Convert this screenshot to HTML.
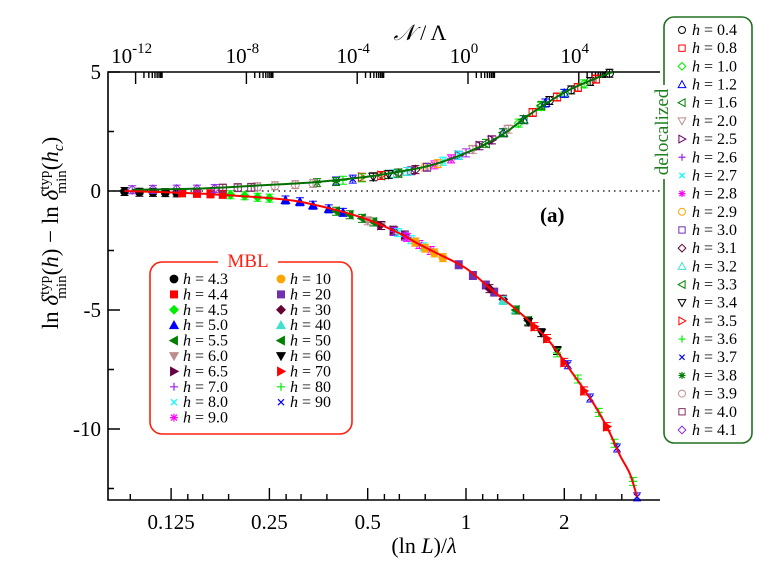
<!DOCTYPE html>
<html><head><meta charset="utf-8">
<style>
html,body{margin:0;padding:0;background:#fff;}
svg{display:block;font-family:"Liberation Serif","DejaVu Serif",serif;}
</style></head>
<body>
<svg id="chart" width="773" height="562" viewBox="0 0 773 562" xmlns="http://www.w3.org/2000/svg">
<g id="axes"></g>
<g id="curves"></g>
<g id="points"></g>
<text x="540" y="222" font-size="21" font-weight="bold">(<tspan font-weight="bold">a</tspan>)</text>
<text transform="translate(58,233) rotate(-90)" text-anchor="middle" font-size="23">ln <tspan font-style="italic">δ</tspan><tspan font-size="15" dy="-9">typ</tspan><tspan font-size="15" dx="-23" dy="17">min</tspan><tspan dy="-8">(</tspan><tspan font-style="italic">h</tspan>) − ln <tspan font-style="italic">δ</tspan><tspan font-size="15" dy="-9">typ</tspan><tspan font-size="15" dx="-23" dy="17">min</tspan><tspan dy="-8">(</tspan><tspan font-style="italic">h</tspan><tspan font-size="15" font-style="italic" dy="5">c</tspan><tspan dy="-5">)</tspan></text>
<text x="424" y="553" text-anchor="middle" font-size="22">(ln <tspan font-style="italic">L</tspan>)/<tspan font-style="italic">λ</tspan></text>
<text x="420" y="40" text-anchor="middle" font-size="22"><tspan font-style="italic">𝒩</tspan> / Λ</text>
<g id="legend-mbl"></g>
<g id="legend-deloc"></g>
</svg>
<script>
// ---- data ----
const upperFitX = [0.095,0.15,0.246,0.35,0.497,0.65,0.79,1.0,1.27,1.6,2.04,2.57,2.82];
const upperFitY = [0.05,0.1,0.25,0.38,0.6,0.85,1.1,1.6,2.3,3.3,4.2,4.8,5.0];
const lowerFitX = [0.09,0.13,0.173,0.25,0.31,0.4,0.5,0.63,0.71,0.81,1.0,1.21,1.43,1.77,2.13,2.45,2.72,2.96,3.18,3.34];
const lowerFitY = [0,-0.07,-0.15,-0.3,-0.45,-0.8,-1.2,-1.8,-2.2,-2.6,-3.25,-4.2,-5.0,-6.2,-7.7,-8.9,-10.0,-11.1,-11.9,-12.85];

const mblLabels = ["4.3","4.4","4.5","5.0","5.5","6.0","6.5","7.0","8.0","9.0","10","20","30","40","50","60","70","80","90"];
const mblX = [[0.09,0.10,0.11,0.12,0.13],[0.135,0.15,0.165,0.18],[0.19,0.21,0.23,0.25],[0.28,0.31,0.34,0.38,0.42],[0.40,0.44,0.48,0.52],[0.5,0.55,0.6],[0.55,0.6,0.65],[0.6,0.65,0.7],[0.62,0.68,0.74],[0.66,0.72,0.78],[0.7,0.75,0.8,0.85],[0.95,1.05,1.15,1.22],[1.18,1.3],[1.3,1.42],[1.42,1.55],[1.55,1.7,1.9],[1.62,1.77,2.0,2.3,2.7],[1.9,2.2,2.55,2.85,3.25],[2.05,2.4,2.9,3.34]];
const mblY = [[-0.02,-0.05,-0.06,-0.07,-0.08],[-0.08,-0.10,-0.12,-0.14],[-0.16,-0.2,-0.26,-0.3],[-0.38,-0.45,-0.6,-0.75,-0.9],[-0.85,-1.0,-1.15,-1.3],[-1.25,-1.45,-1.65],[-1.45,-1.65,-1.85],[-1.7,-1.9,-2.15],[-1.75,-2.05,-2.35],[-1.95,-2.25,-2.5],[-2.15,-2.4,-2.6,-2.8],[-3.1,-3.55,-3.95,-4.25],[-4.1,-4.55],[-4.6,-5.0],[-5.0,-5.45],[-5.5,-5.95,-6.7],[-5.7,-6.2,-7.2,-8.4,-9.9],[-6.8,-7.9,-9.3,-10.6,-12.2],[-7.3,-8.7,-10.8,-12.85]];

const delLabels = ["0.4","0.8","1.0","1.2","1.6","2.0","2.5","2.6","2.7","2.8","2.9","3.0","3.1","3.2","3.3","3.4","3.5","3.6","3.7","3.8","3.9","4.0","4.1"];
const delX = [[1.8,2.1,2.4,2.75],[1.6,1.9,2.2,2.5],[1.45,1.7,2.0,2.3],[1.3,1.5,1.75,2.0],[1.15,1.3,1.5,1.7],[1.05,1.2,1.35],[0.95,1.1,1.2],[0.9,1.0],[0.85,0.95],[0.8,0.9],[0.75,0.82],[0.68,0.76],[0.62,0.7],[0.6,0.66],[0.55,0.62],[0.52,0.58],[0.48,0.55],[0.42,0.48],[0.4,0.45],[0.35,0.4],[0.23,0.26,0.3,0.34],[0.18,0.2,0.22],[0.095,0.11,0.13,0.15,0.17]];
const delY = [[3.8,4.25,4.6,4.95],[3.3,3.95,4.35,4.7],[2.85,3.55,4.1,4.5],[2.45,3.0,3.7,4.1],[2.0,2.45,3.0,3.6],[1.75,2.15,2.6],[1.5,1.9,2.15],[1.35,1.6],[1.25,1.5],[1.1,1.35],[1.0,1.15],[0.85,1.0],[0.75,0.9],[0.72,0.82],[0.65,0.75],[0.6,0.7],[0.58,0.65],[0.45,0.55],[0.42,0.5],[0.35,0.4],[0.18,0.22,0.27,0.32],[0.12,0.14,0.15],[0.05,0.07,0.08,0.08,0.1]];

const bottomTickLabels = ["0.125","0.25","0.5","1","2"];
const bottomTickValues = [0.125,0.25,0.5,1,2];
const leftTickValues = [5,0,-5,-10];
const topTickExps = [-12,-8,-4,0,4];

// ---- styles (not data) ----
const mblStyle = [["circle","#000"],["square","#ff0000"],["diamond","#00ee00"],["tup","#0000ff"],["tleft","#008000"],["tdown","#bc8f8f"],["tright","#660044"],["plus","#a020f0"],["x","#00ffff"],["star","#ff00ff"],["circle","#ffa500"],["square","#7030b0"],["diamond","#660033"],["tup","#40e0d0"],["tleft","#008000"],["tdown","#000"],["tright","#ff0000"],["plus","#00ee00"],["x","#0000ff"]];
const delStyle = [["circle","#000"],["square","#ff0000"],["diamond","#00ee00"],["tup","#0000ff"],["tleft","#008000"],["tdown","#bc8f8f"],["tright","#660066"],["plus","#a020f0"],["x","#00ffff"],["star","#ff00ff"],["circle","#ffa500"],["square","#7030b0"],["diamond","#660033"],["tup","#40e0d0"],["tleft","#008000"],["tdown","#000"],["tright","#ff0000"],["plus","#00ee00"],["x","#0000ff"],["star","#008000"],["circle","#bc8f8f"],["square","#803060"],["diamond","#8a2be2"]];

const NS="http://www.w3.org/2000/svg";
const L=108,R=660,T=72,B=500;
function X(v){return 466+98.3*Math.log2(v);}
function Y(v){return 191-23.8*v;}
function TX(e){return 468+27.7*e;}
function mk(tag,attrs,parent){const e=document.createElementNS(NS,tag);for(const k in attrs)e.setAttribute(k,attrs[k]);parent.appendChild(e);return e;}

function marker(parent,shape,color,cx,cy,s,filled){
  const f=filled?color:"none";const sw=filled?0.8:1;
  let e;
  if(shape==="circle") e=mk("circle",{cx:cx,cy:cy,r:s*0.5,fill:f,stroke:color,"stroke-width":sw},parent);
  else if(shape==="square") e=mk("rect",{x:cx-s*0.45,y:cy-s*0.45,width:s*0.9,height:s*0.9,fill:f,stroke:color,"stroke-width":sw},parent);
  else if(shape==="diamond"){const d=s*0.55;e=mk("polygon",{points:`${cx},${cy-d} ${cx+d},${cy} ${cx},${cy+d} ${cx-d},${cy}`,fill:f,stroke:color,"stroke-width":sw},parent);}
  else if(shape==="tup"){const d=s*0.55;e=mk("polygon",{points:`${cx},${cy-d} ${cx+d},${cy+d*0.8} ${cx-d},${cy+d*0.8}`,fill:f,stroke:color,"stroke-width":sw},parent);}
  else if(shape==="tdown"){const d=s*0.55;e=mk("polygon",{points:`${cx},${cy+d} ${cx+d},${cy-d*0.8} ${cx-d},${cy-d*0.8}`,fill:f,stroke:color,"stroke-width":sw},parent);}
  else if(shape==="tleft"){const d=s*0.55;e=mk("polygon",{points:`${cx-d},${cy} ${cx+d*0.8},${cy-d} ${cx+d*0.8},${cy+d}`,fill:f,stroke:color,"stroke-width":sw},parent);}
  else if(shape==="tright"){const d=s*0.55;e=mk("polygon",{points:`${cx+d},${cy} ${cx-d*0.8},${cy-d} ${cx-d*0.8},${cy+d}`,fill:f,stroke:color,"stroke-width":sw},parent);}
  else {const d=s*0.5;let p="";
    if(shape==="plus"||shape==="star") p+=`M${cx-d},${cy}H${cx+d}M${cx},${cy-d}V${cy+d}`;
    if(shape==="x"||shape==="star"){const q=d*0.75;p+=`M${cx-q},${cy-q}L${cx+q},${cy+q}M${cx-q},${cy+q}L${cx+q},${cy-q}`;}
    e=mk("path",{d:p,fill:"none",stroke:color,"stroke-width":1.2},parent);}
  return e;
}

// ---- axes ----
const ax=document.getElementById('axes');
const frame=mk("path",{d:`M${R},${T}H${L}V${B}H${R}`,fill:"none",stroke:"#000","stroke-width":1.6},ax);


const zl=mk("line",{x1:L,y1:Y(0),x2:R,y2:Y(0),stroke:"#000","stroke-width":1.2,"stroke-dasharray":"1.5,4"},ax);


let bt="";
for(let k=-4;k<=1;k++){const base=Math.pow(2,k);[1,1.125,1.25,1.5].forEach((m,i)=>{const v=base*m;const x=X(v);if(x<L||x>R)return;const len=(i===0&&k>=-3)?12:6;bt+=`M${x},${B}V${B-len}`;});}
mk("path",{d:bt,stroke:"#000","stroke-width":1.4},ax);
bottomTickValues.forEach((v,i)=>{const t=mk("text",{x:X(v),y:529,"text-anchor":"middle","font-size":21},ax);t.textContent=bottomTickLabels[i];

});
let lt="";
for(let v=5;v>=-12.5;v-=2.5){const y=Y(v);const len=(v%5===0)?12:6;lt+=`M${L},${y}H${L+len}`;}
mk("path",{d:lt,stroke:"#000","stroke-width":1.4},ax);
leftTickValues.forEach(v=>{const t=mk("text",{x:101,y:Y(v)+7,"text-anchor":"end","font-size":21},ax);t.textContent=String(v);

});
let tt="";
topTickExps.forEach(e=>{const x=TX(e);tt+=`M${x},${T}V${T+12}`;for(let m=2;m<=9;m++){const xm=x+27.7*Math.log10(m);tt+=`M${xm},${T}V${T+6}`;}});
mk("path",{d:tt,stroke:"#000","stroke-width":1.4},ax);
topTickExps.forEach(e=>{const t=mk("text",{x:TX(e)-4,y:63,"text-anchor":"middle","font-size":21},ax);
t.innerHTML=`10<tspan font-size="15" dy="-10">${e}</tspan>`;

});

// ---- curves ----
function smoothPath(xs,ys){const P=xs.map((x,i)=>[X(x),Y(ys[i])]);let d=`M${P[0][0]},${P[0][1]}`;
for(let i=0;i<P.length-1;i++){const p0=P[Math.max(0,i-1)],p1=P[i],p2=P[i+1],p3=P[Math.min(P.length-1,i+2)];
d+=`C${p1[0]+(p2[0]-p0[0])/6},${p1[1]+(p2[1]-p0[1])/6} ${p2[0]-(p3[0]-p1[0])/6},${p2[1]-(p3[1]-p1[1])/6} ${p2[0]},${p2[1]}`;}return d;}
const cv=document.getElementById('curves');
const pts=document.getElementById('points');

mblX.forEach((xs,s)=>{xs.forEach((x,i)=>{const cx=X(x),cy=Y(mblY[s][i]);
 const eb=mk("path",{d:`M${cx},${cy-4}V${cy+4}M${cx-4},${cy-4}H${cx+4}M${cx-4},${cy+4}H${cx+4}`,stroke:mblStyle[s][1],"stroke-width":1},pts);
 
 
 const m=marker(pts,mblStyle[s][0],mblStyle[s][1],cx,cy,8,true);
 
 });});
delX.forEach((xs,s)=>{xs.forEach((x,i)=>{const cx=X(x),cy=Y(delY[s][i]);
 const eb=mk("path",{d:`M${cx},${cy-4}V${cy+4}M${cx-4},${cy-4}H${cx+4}M${cx-4},${cy+4}H${cx+4}`,stroke:delStyle[s][1],"stroke-width":1},pts);
 
 
 const m=marker(pts,delStyle[s][0],delStyle[s][1],cx,cy,8,false);
 
 });});

const uc=mk("path",{d:smoothPath(upperFitX,upperFitY),fill:"none",stroke:"#007000","stroke-width":2},cv);


const lc=mk("path",{d:smoothPath(lowerFitX,lowerFitY),fill:"none",stroke:"#ff0000","stroke-width":2},cv);


document.getElementById('chart').appendChild(cv);

// ---- legends ----
const lm=document.getElementById('legend-mbl');
const lmBox=mk("rect",{x:150,y:262,width:202,height:172,rx:12,fill:"#fff",stroke:"#ff2010","stroke-width":1.6},lm);


mk("rect",{x:218,y:252,width:60,height:16,fill:"#fff"},lm);
const lmT=mk("text",{x:248,y:267,"text-anchor":"middle","font-size":19,fill:"#ff2010"},lm);lmT.textContent="MBL";


mblLabels.forEach((lab,i)=>{const col=i<10?0:1,row=i<10?i:i-10;const mx=col?281:174,my=279+row*15.4;
 const g=mk("g",{},lm);
 
 
 marker(g,mblStyle[i][0],mblStyle[i][1],mx,my,8,true);
 const t=mk("text",{x:mx+9,y:my+5,"font-size":16},g);t.innerHTML=`<tspan font-style="italic">h</tspan> = ${lab}`;});

const ld=document.getElementById('legend-deloc');
const ldBox=mk("rect",{x:664,y:17,width:88,height:426,rx:10,fill:"#fff",stroke:"#207020","stroke-width":1.6},ld);


mk("rect",{x:655,y:85,width:16,height:94,fill:"#fff"},ld);
const ldT=mk("text",{x:0,y:0,"text-anchor":"middle","font-size":19,fill:"#208020",transform:"translate(668,132) rotate(-90)"},ld);ldT.textContent="delocalized";


delLabels.forEach((lab,i)=>{const mx=682,my=30+i*18.18;
 const g=mk("g",{},ld);
 
 
 marker(g,delStyle[i][0],delStyle[i][1],mx,my,7,false);
 const t=mk("text",{x:692,y:my+5,"font-size":16},g);t.innerHTML=`<tspan font-style="italic">h</tspan> = ${lab}`;});
</script>
</body></html>
